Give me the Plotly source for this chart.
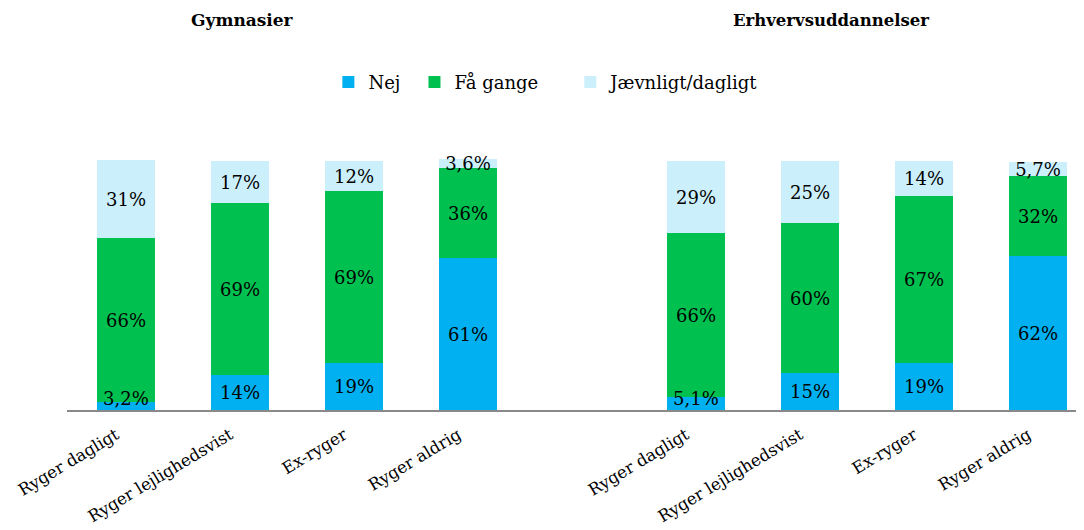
import plotly.graph_objects as go

categories = ["Ryger dagligt", "Ryger lejlighedsvist", "Ex-ryger", "Ryger aldrig"]
groups = ["Gymnasier", "Erhvervsuddannelser"]
series = ["Nej", "Få gange", "Jævnligt/dagligt"]

gym_nej = [3.2, 14, 19, 61]
gym_faa = [66, 69, 69, 36]
gym_jaev = [31, 17, 12, 3.6]

erh_nej = [5.1, 15, 19, 62]
erh_faa = [66, 60, 67, 32]
erh_jaev = [29, 25, 14, 5.7]

colors = ["#00B0F0", "#00C050", "#CCEFFC"]
FONT = "DejaVu Serif"

def fmt(v):
    s = f"{v:g}".replace(".", ",")
    return s + "%"

# positions: group 1 at slots 0..3, group 2 at slots 5..8
x_gym = list(range(len(categories)))
x_erh = [i + len(categories) + 1 for i in range(len(categories))]
xs = x_gym + x_erh

fig = go.Figure()
data = [
    (gym_nej, erh_nej),
    (gym_faa, erh_faa),
    (gym_jaev, erh_jaev),
]
legend_ids = ["legend", "legend2", "legend3"]
legend_x = [0.255, 0.339, 0.491]
annotations = []
for si, name in enumerate(series):
    g, e = data[si]
    ys = list(g) + list(e)
    tpos = []
    for xv, v in zip(xs, ys):
        if si == 0 and v < 8:
            # too small a base segment: label sits on the baseline
            tpos.append("none")
            annotations.append(dict(
                x=xv, y=0, xref="x", yref="y", text=fmt(v), showarrow=False,
                xanchor="center", yanchor="bottom", yshift=-1,
                font=dict(family=FONT, size=18, color="#000000")))
        else:
            tpos.append("inside")
    fig.add_trace(go.Bar(
        x=xs, y=ys, name=name, legend=legend_ids[si],
        marker=dict(color=colors[si], line=dict(width=0)),
        width=0.51,
        text=[fmt(v) for v in ys],
        textposition=tpos,
        insidetextanchor="middle",
        constraintext="none",
        cliponaxis=False,
        textangle=0,
        textfont=dict(family=FONT, size=18, color="#000000"),
        hoverinfo="skip",
    ))

leg_common = dict(
    orientation="h", xanchor="left", y=1.26, yanchor="middle",
    font=dict(family=FONT, size=18, color="#000000"),
    itemwidth=30, bgcolor="rgba(0,0,0,0)",
)

annotations += [
    dict(text=f"<b>{groups[0]}</b>", x=0.1717, y=1.5, xref="paper", yref="paper",
         showarrow=False, xanchor="center", yanchor="middle",
         font=dict(family=FONT, size=17, color="#000000")),
    dict(text=f"<b>{groups[1]}</b>", x=0.745, y=1.5, xref="paper", yref="paper",
         showarrow=False, xanchor="center", yanchor="middle",
         font=dict(family=FONT, size=16.5, color="#000000")),
]

fig.update_layout(
    barmode="stack",
    width=1084, height=530,
    margin=dict(l=59, r=0, t=142, b=128),
    paper_bgcolor="white", plot_bgcolor="white",
    font=dict(family=FONT, size=16, color="#000000"),
    bargap=0,
    showlegend=True,
    legend=dict(x=legend_x[0], **leg_common),
    legend2=dict(x=legend_x[1], **leg_common),
    legend3=dict(x=legend_x[2], **leg_common),
    xaxis=dict(
        range=[-0.5175, 8.474],
        tickvals=xs,
        ticktext=categories + categories,
        tickangle=-31,
        ticklabelshift=-10,
        ticklabelstandoff=7,
        ticklabeloverflow="allow",
        tickfont=dict(family=FONT, size=16.5, color="#000000"),
        showline=True, linecolor="#898989", linewidth=2,
        showgrid=False, zeroline=False, ticks="",
        automargin=False,
    ),
    yaxis=dict(
        range=[0, 104.4], visible=False, showgrid=False, zeroline=False,
        automargin=False,
    ),
    annotations=annotations,
)

fig.write_html("out.html")
